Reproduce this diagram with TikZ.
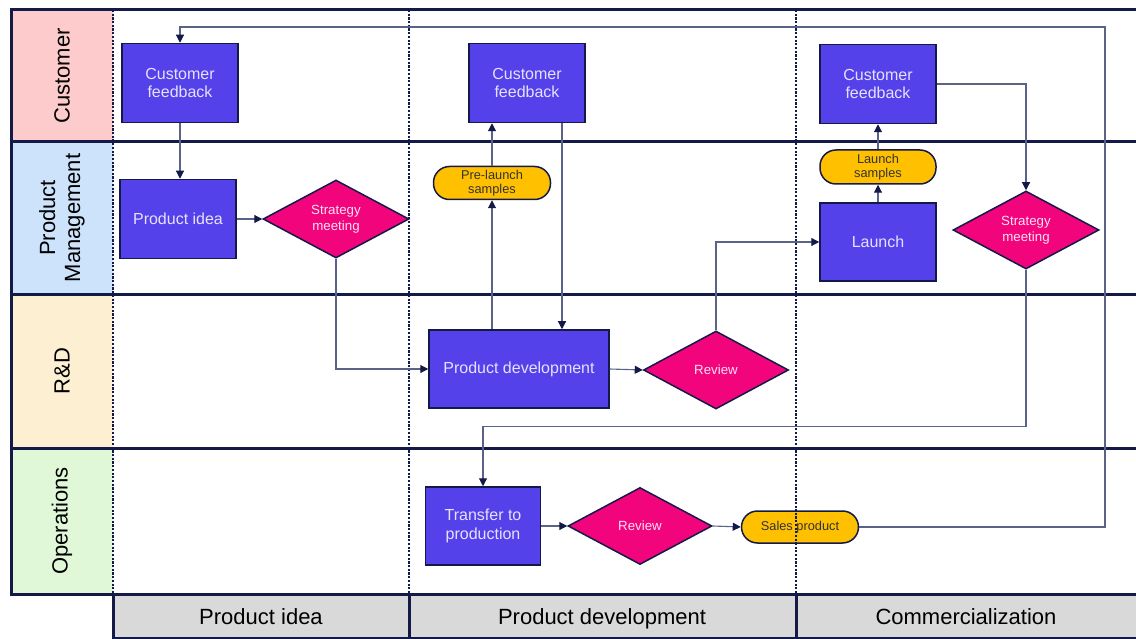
\documentclass[tikz,border=0pt]{standalone}
\usepackage{fontspec}
\setmainfont{Liberation Sans}
\usetikzlibrary{shapes.geometric,arrows.meta,calc}
\definecolor{framec}{HTML}{141A48}
\definecolor{linec}{HTML}{5A6288}
\definecolor{boxfill}{HTML}{5541EA}
\definecolor{boxtext}{HTML}{E4E2FF}
\definecolor{diafill}{HTML}{F2047C}
\definecolor{diatext}{HTML}{FFE2F0}
\definecolor{pillfill}{HTML}{FFC000}
\definecolor{laneA}{HTML}{FDCBCB}
\definecolor{laneB}{HTML}{CCE3FB}
\definecolor{laneC}{HTML}{FCEFD2}
\definecolor{laneD}{HTML}{E1F8D8}
\definecolor{barfill}{HTML}{D9D9D9}
\begin{document}
\begin{tikzpicture}[x=1pt,y=-1pt,
  procbox/.style={draw=framec,line width=1.5pt,fill=boxfill,text=boxtext,
    minimum width=116pt,minimum height=79pt,inner sep=0pt,align=center,
    font=\fontsize{16}{18.5}\selectfont},
  decision/.style={diamond,draw=framec,line width=1.5pt,fill=diafill,text=diatext,
    minimum width=146pt,minimum height=78pt,inner sep=0pt,align=center,
    font=\fontsize{13.3}{16}\selectfont},
  pill/.style={draw=framec,line width=1.5pt,fill=pillfill,text=black!80,
    rounded corners=16pt,minimum width=117pt,minimum height=33pt,inner sep=0pt,
    align=center,font=\fontsize{12.8}{14.5}\selectfont},
  lanelabel/.style={rotate=90,align=center,font=\fontsize{22}{25}\selectfont},
  phaselabel/.style={anchor=base,inner sep=0pt,font=\fontsize{22}{25}\selectfont},
  heavy/.style={draw=framec,line width=3pt},
  phaseline/.style={draw=framec,line width=2.4pt,dash pattern=on 2.2pt off 1.5pt},
  conn/.style={draw=linec,line width=1.1pt,-{Triangle[length=8pt,width=8pt,color=framec]}}
]
\useasboundingbox (0,0) rectangle (1136,639);
\clip (0,0) rectangle (1136,639);

% lane headers
\fill[laneA] (11,10) rectangle (113,142);
\fill[laneB] (11,142) rectangle (113,295);
\fill[laneC] (11,295) rectangle (113,448);
\fill[laneD] (11,448) rectangle (113,594);
\node[lanelabel] (lcust) at (62,76) {Customer};
\node[lanelabel] (lpm) at (62,218) {Product\\Management};
\node[lanelabel] (lrd) at (62,371) {R\&D};
\node[lanelabel] (lops) at (62,521) {Operations};

% phase bar
\fill[barfill] (113,594) rectangle (1140,638);
\draw[framec,line width=1.5pt] (113,638) -- (1140,638);
\draw[heavy] (113,594) -- (113,639);
\draw[heavy] (409,594) -- (409,639);
\draw[heavy] (796,594) -- (796,639);
\node[phaselabel] (ph1) at (261,624) {Product idea};
\node[phaselabel] (ph2) at (602,624) {Product development};
\node[phaselabel] (ph3) at (966,624) {Commercialization};

% phase separators
\draw[phaseline] (113,10) -- (113,594);
\draw[phaseline] (409,10) -- (409,594);
\draw[phaseline] (796,10) -- (796,594);

% lane frame
\draw[heavy] (1140,10) -- (11,10) -- (11,594) -- (1140,594);
\draw[heavy] (11,142) -- (1140,142);
\draw[heavy] (11,295) -- (1140,295);
\draw[heavy] (11,448) -- (1140,448);

% steps
\node[procbox] (cf1) at (180,83) {Customer\\feedback};
\node[procbox] (pi) at (178,219) {Product idea};
\node[decision] (sm1) at (336,219) {Strategy\\meeting};
\node[procbox] (cf2) at (527,83) {Customer\\feedback};
\node[pill] (pls) at (492,183) {Pre-launch\\samples};
\node[procbox,minimum width=180pt,minimum height=78pt] (pd) at (519,369) {Product development};
\node[decision,minimum width=145pt] (rv1) at (716,370) {Review};
\node[procbox] (cf3) at (878,84) {Customer\\feedback};
\node[pill,minimum width=116pt,minimum height=34pt] (ls) at (878,167) {Launch\\samples};
\node[procbox,minimum height=78pt] (la) at (878,242) {Launch};
\node[decision] (sm2) at (1026,230) {Strategy\\meeting};
\node[procbox,minimum height=78pt,minimum width=115pt] (tp) at (483,526) {Transfer to\\production};
\node[decision,minimum width=144pt,minimum height=77pt] (rv2) at (640,526) {Review};
\node[pill,minimum height=32pt] (sp) at (800,527) {Sales product};
% dotted separator drawn again over the pill it crosses
\draw[phaseline] (796,509) -- (796,545);

% connectors
\coordinate (loop) at (1105,27);
\draw[conn] (sp.east) -| (loop) -| (cf1.north);
\draw[conn] (cf1.south) -- (cf1.south |- pi.north);
\draw[conn] (pi.east) -- (sm1.west);
\draw[conn] (sm1.south) |- (pd.west);
\draw[conn] (pd.north -| pls.south) -- (pls.south);
\draw[conn] (pls.north) -- (pls.north |- cf2.south);
\coordinate (cf2out) at ($(cf2.south)+(35,0)$);
\draw[conn] (cf2out) -- (cf2out |- pd.north);
\draw[conn] (pd.east) -- (rv1.west);
\draw[conn] (rv1.north) |- (la.west);
\draw[conn] (la.north) -- (ls.south);
\draw[conn] (ls.north) -- (cf3.south);
\draw[conn] (cf3.east) -| (sm2.north);
\coordinate (opsbend) at ($(tp.north)+(0,-60)$);
\draw[conn] (sm2.south) |- (opsbend) -- (tp.north);
\draw[conn] (tp.east) -- (rv2.west);
\draw[conn] (rv2.east) -- (sp.west);
\end{tikzpicture}
\end{document}
